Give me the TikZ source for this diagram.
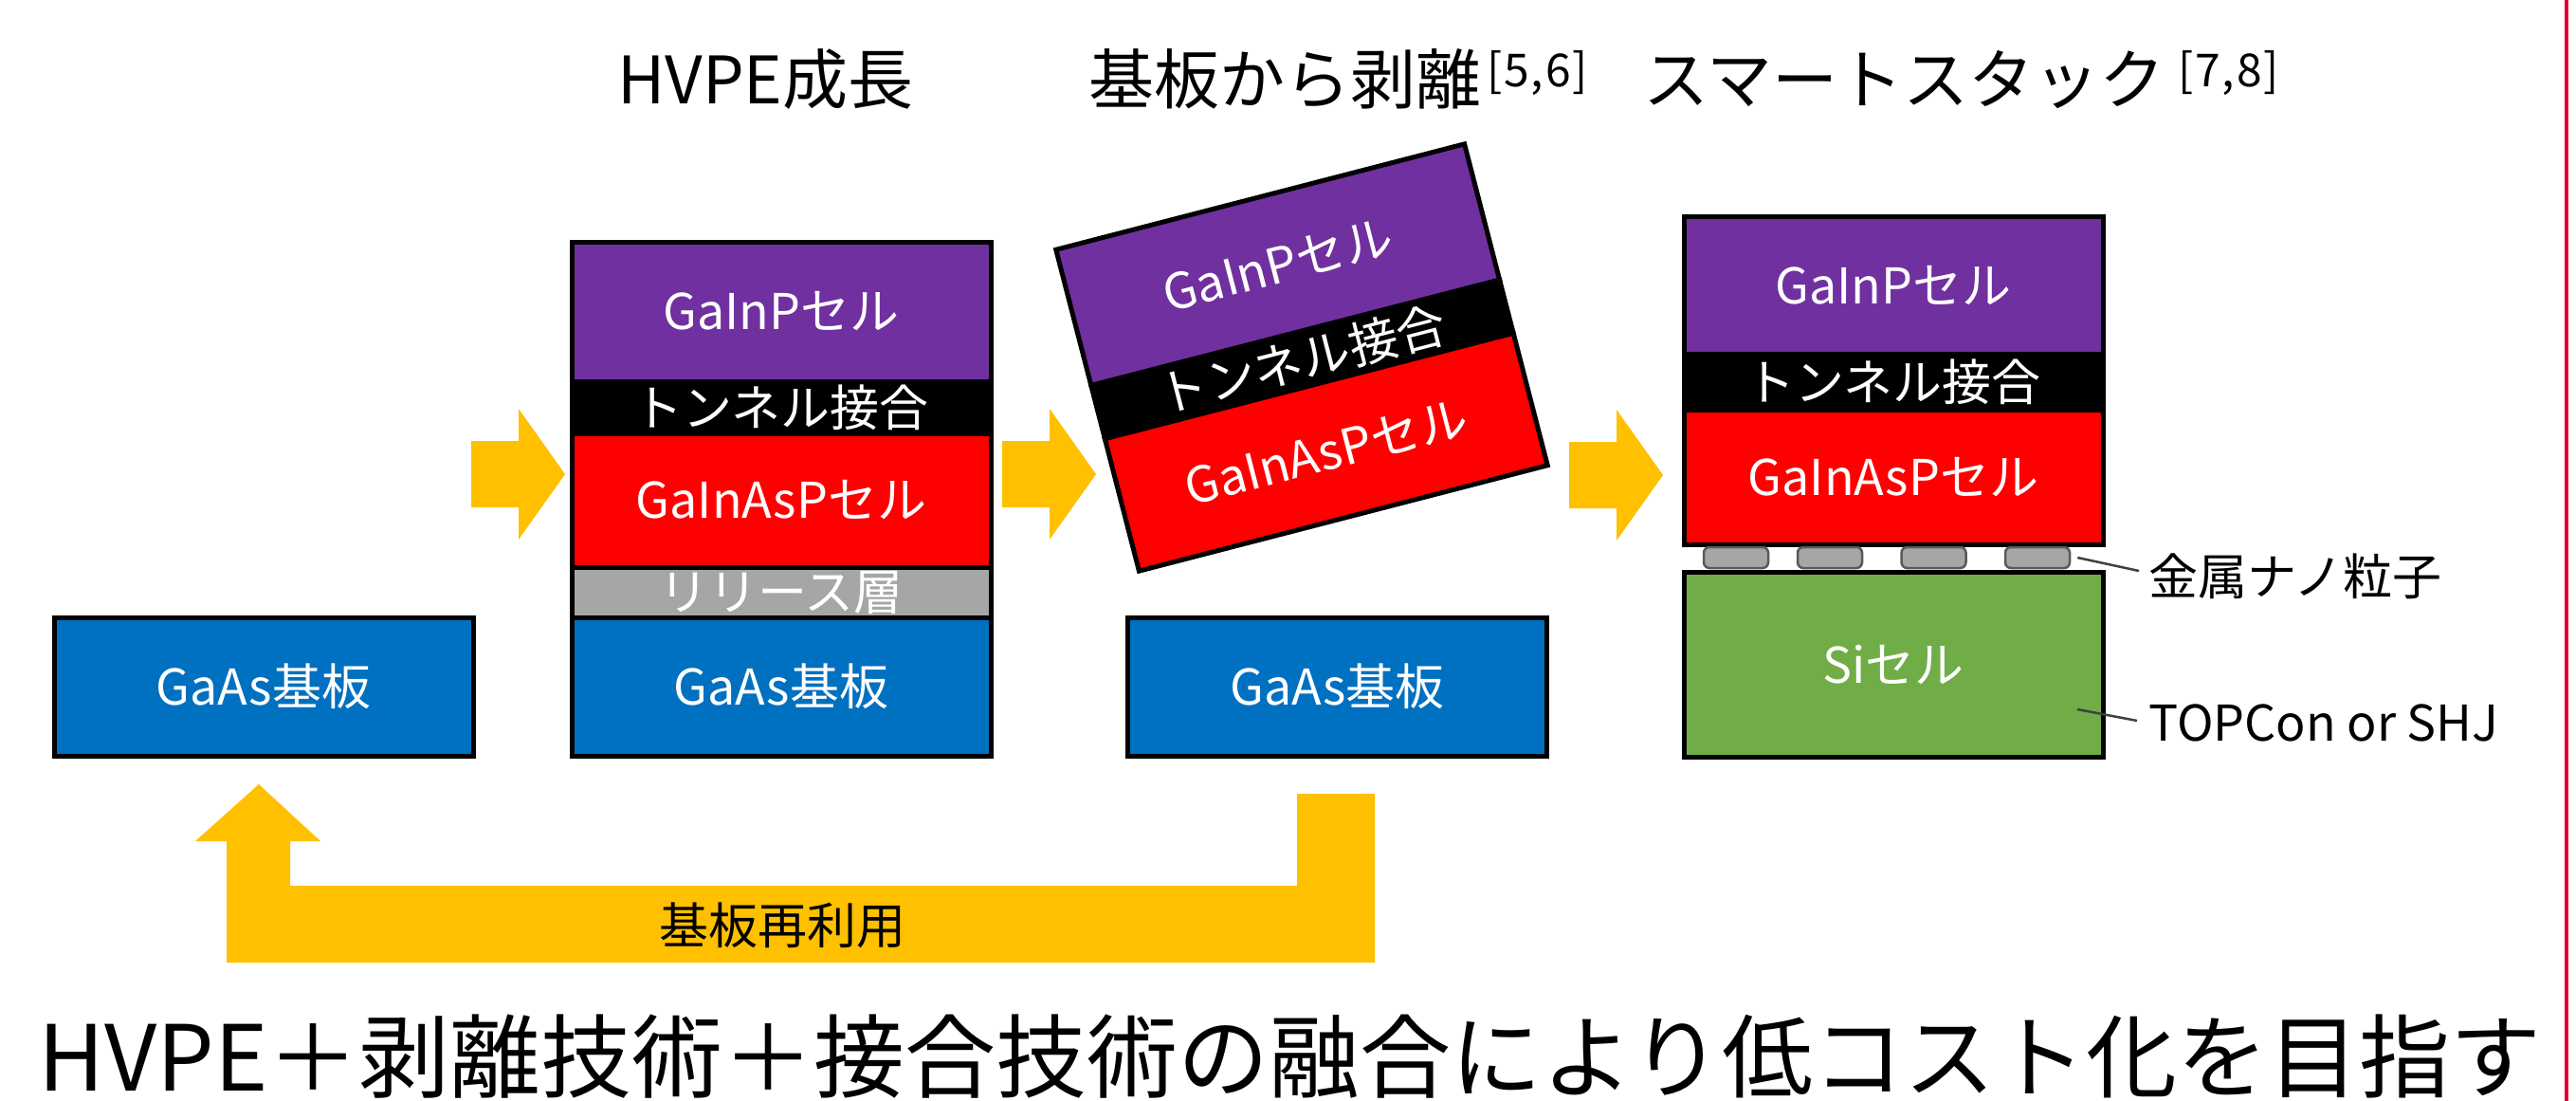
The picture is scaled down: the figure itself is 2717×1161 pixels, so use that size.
\documentclass[tikz,border=0pt]{standalone}
\usepackage{fontspec}
\setmainfont{Noto Sans CJK JP}
\definecolor{cpurple}{HTML}{7030A0}
\definecolor{cred}{HTML}{FF0000}
\definecolor{cblue}{HTML}{0070C0}
\definecolor{cgray}{HTML}{A6A6A6}
\definecolor{cgreen}{HTML}{70AD47}
\definecolor{cyellow}{HTML}{FFC000}
\definecolor{cline}{HTML}{E0002A}
\newcommand\labfont{\fontsize{52pt}{60pt}\selectfont}
\newcommand\titfont{\fontsize{69pt}{80pt}\selectfont}
\newcommand\supref[2]{\hspace{#1}\raisebox{18pt}{\fontsize{48pt}{48pt}\selectfont\addfontfeature{LetterSpace=4}#2}}
\begin{document}
\begin{tikzpicture}[x=1pt,y=-1pt,
  lay/.style={draw=black, line width=5pt, text=white, font=\labfont, inner sep=0pt, minimum width=442pt},
  particle/.style={draw=black!65, fill=cgray, line width=2.5pt, rounded corners=6pt, minimum width=68pt, minimum height=22pt, inner sep=0pt},
  titlelbl/.style={font=\titfont, inner sep=0pt, anchor=base west},
  sidelbl/.style={font=\labfont, inner sep=0pt, anchor=west},
  leader/.style={draw=black!75, line width=2.5pt},
  rarrow/.pic={\fill[cyellow] (0,-35) -- (50,-35) -- (50,-69) -- (99,0) -- (50,69) -- (50,35) -- (0,35) -- cycle;}
]
\useasboundingbox (0,0) rectangle (2717,1161);
\fill[white] (0,0) rectangle (2717,1161);

% titles
\node[titlelbl] (t1) at (651,110) {HVPE成長};
\node[titlelbl] (t2) at (1148,110) {基板から剥離\supref{6pt}{[5,6]}};
\node[titlelbl] (t3) at (1733,110) {スマートスタック\supref{14pt}{[7,8]}};

% left substrate
\node[lay, fill=cblue, minimum height=146pt] (sub1) at (278,724) {GaAs基板};

% HVPE stack
\node[lay, fill=cpurple, minimum height=147pt] (m1) at (824,328.5) {GaInPセル};
\node[lay, fill=black, minimum height=55pt] (m2) at (824,429.5) {トンネル接合};
\node[lay, fill=cred, minimum height=141pt] (m3) at (824,527.5) {GaInAsPセル};
\node[lay, fill=cgray, minimum height=53pt] (m4) at (824,624.5) {リリース層};
\node[lay, fill=cblue, minimum height=146pt] (m5) at (824,724) {GaAs基板};

% lifted-off stack
\begin{scope}[shift={(1373,377)}, rotate=14.5, transform shape]
\node[lay, fill=cpurple, minimum width=445pt, minimum height=148pt] (p1) at (0,-101) {GaInPセル};
\node[lay, fill=black, minimum width=445pt, minimum height=58pt] (p2) at (0,2) {トンネル接合};
\node[lay, fill=cred, minimum width=445pt, minimum height=144pt] (p3) at (0,103) {GaInAsPセル};
\end{scope}
\node[lay, fill=cblue, minimum height=146pt] (sub3) at (1410.5,724) {GaAs基板};

% smart stack
\node[lay, fill=cpurple, minimum height=144pt] (r1) at (1997,301) {GaInPセル};
\node[lay, fill=black, minimum height=59pt] (r2) at (1997,402.5) {トンネル接合};
\node[lay, fill=cred, minimum height=142pt] (r3) at (1997,503) {GaInAsPセル};
\node[lay, fill=cgreen, minimum height=195pt] (si) at (1997,700.5) {Siセル};
\node[particle] (np1) at (1831,588) {};
\node[particle] (np2) at (1930,588) {};
\node[particle] (np3) at (2039.5,588) {};
\node[particle] (np4) at (2149,588) {};

\node[sidelbl] (lnp) at (2266,608) {金属ナノ粒子};
\node[sidelbl] (ltop) at (2266,762) {TOPCon or SHJ};
\draw[leader] ([xshift=7pt]np4.east) -- ([xshift=-10pt,yshift=6pt]lnp.west);
\coordinate (sipt) at (2191,748);
\draw[leader] (sipt) -- ([xshift=-12pt,yshift=2pt]ltop.west);

% process arrows
\pic at (497,500) {rarrow};
\pic at (1057,500) {rarrow};
\pic at (1655,501) {rarrow};

% reuse arrow
\fill[cyellow] (1450,837) -- (1450,1015) -- (239,1015) -- (239,887) -- (206,887) -- (273,827) -- (338,887) -- (306,887) -- (306,934) -- (1368,934) -- (1368,837) -- cycle;
\node[font=\labfont, inner sep=0pt] (reuse) at (825,976) {基板再利用};

% bottom statement
\node[anchor=base west, font=\fontsize{96pt}{110pt}\selectfont, inner sep=0pt] (bot) at (40,1150) {HVPE＋剥離技術＋接合技術の融合により低コスト化を目指す};

% right frame line
\draw[cline, line width=4pt] (2707,0) -- (2707,1161);
\end{tikzpicture}
\end{document}
